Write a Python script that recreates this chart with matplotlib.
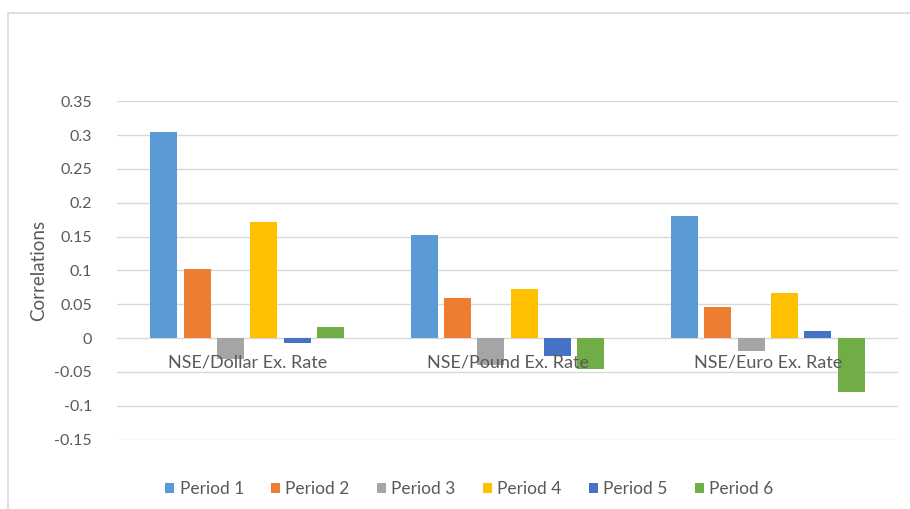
import matplotlib.pyplot as plt
import numpy as np
from matplotlib.patches import Rectangle

plt.rcParams['font.family'] = ['Lato', 'DejaVu Sans']

# correlations for each exchange rate and period
categories = ['NSE/Dollar Ex. Rate', 'NSE/Pound Ex. Rate', 'NSE/Euro Ex. Rate']
periods = ['Period 1', 'Period 2', 'Period 3', 'Period 4', 'Period 5', 'Period 6']
period1 = [0.304, 0.152, 0.181]
period2 = [0.102, 0.060, 0.046]
period3 = [-0.031, -0.040, -0.019]
period4 = [0.171, 0.073, 0.066]
period5 = [-0.007, -0.027, 0.010]
period6 = [0.017, -0.046, -0.080]
series = [period1, period2, period3, period4, period5, period6]
colors = ['#5B9BD5', '#ED7D31', '#A5A5A5', '#FFC000', '#4472C4', '#70AD47']

fig = plt.figure(figsize=(9.1, 5.09), dpi=100)
ax = fig.add_axes([0.1286, 0.1356, 0.8582, 0.666])

# light frame round the chart
fig.patches.append(Rectangle((8 / 910, -0.1), 1.2, 1 - 13 / 509 + 0.1,
                             transform=fig.transFigure, fill=False,
                             edgecolor='#d9d9d9', linewidth=1.2))

x = np.arange(len(categories))
step = 0.128
width = 0.104
for i, (vals, c, name) in enumerate(zip(series, colors, periods)):
    ax.bar(x + (i - 2.5) * step, vals, width, color=c, label=name, zorder=2)

ax.set_xlim(-0.5, 2.5)
ax.set_ylim(-0.1505, 0.3505)
ax.set_yticks(np.arange(-0.15, 0.351, 0.05))
ax.set_yticklabels(['-0.15', '-0.1', '-0.05', '0', '0.05', '0.1', '0.15',
                    '0.2', '0.25', '0.3', '0.35'])
ax.yaxis.grid(True, color='#d9d9d9', linewidth=1, zorder=0)
ax.set_axisbelow(True)
ax.tick_params(axis='y', length=0, labelsize=11.5, labelcolor='#595959', pad=18)
ax.set_xticks([])
for s in ax.spines.values():
    s.set_visible(False)

# category names sit just under the zero line, over the bars
for xi, name in zip(x, categories):
    ax.text(xi, -0.036, name, ha='center', va='center', fontsize=13,
            color='#595959', zorder=5)

ax.set_ylabel('Correlations', fontsize=13.5, color='#595959', labelpad=5)

ax.legend(loc='center', bbox_to_anchor=(0.451, -0.145), ncol=6, frameon=False,
          fontsize=12.5, handlelength=0.55, handleheight=0.55, handletextpad=0.3,
          columnspacing=1.55, labelcolor='#595959')

plt.savefig('out.png', dpi=100)
